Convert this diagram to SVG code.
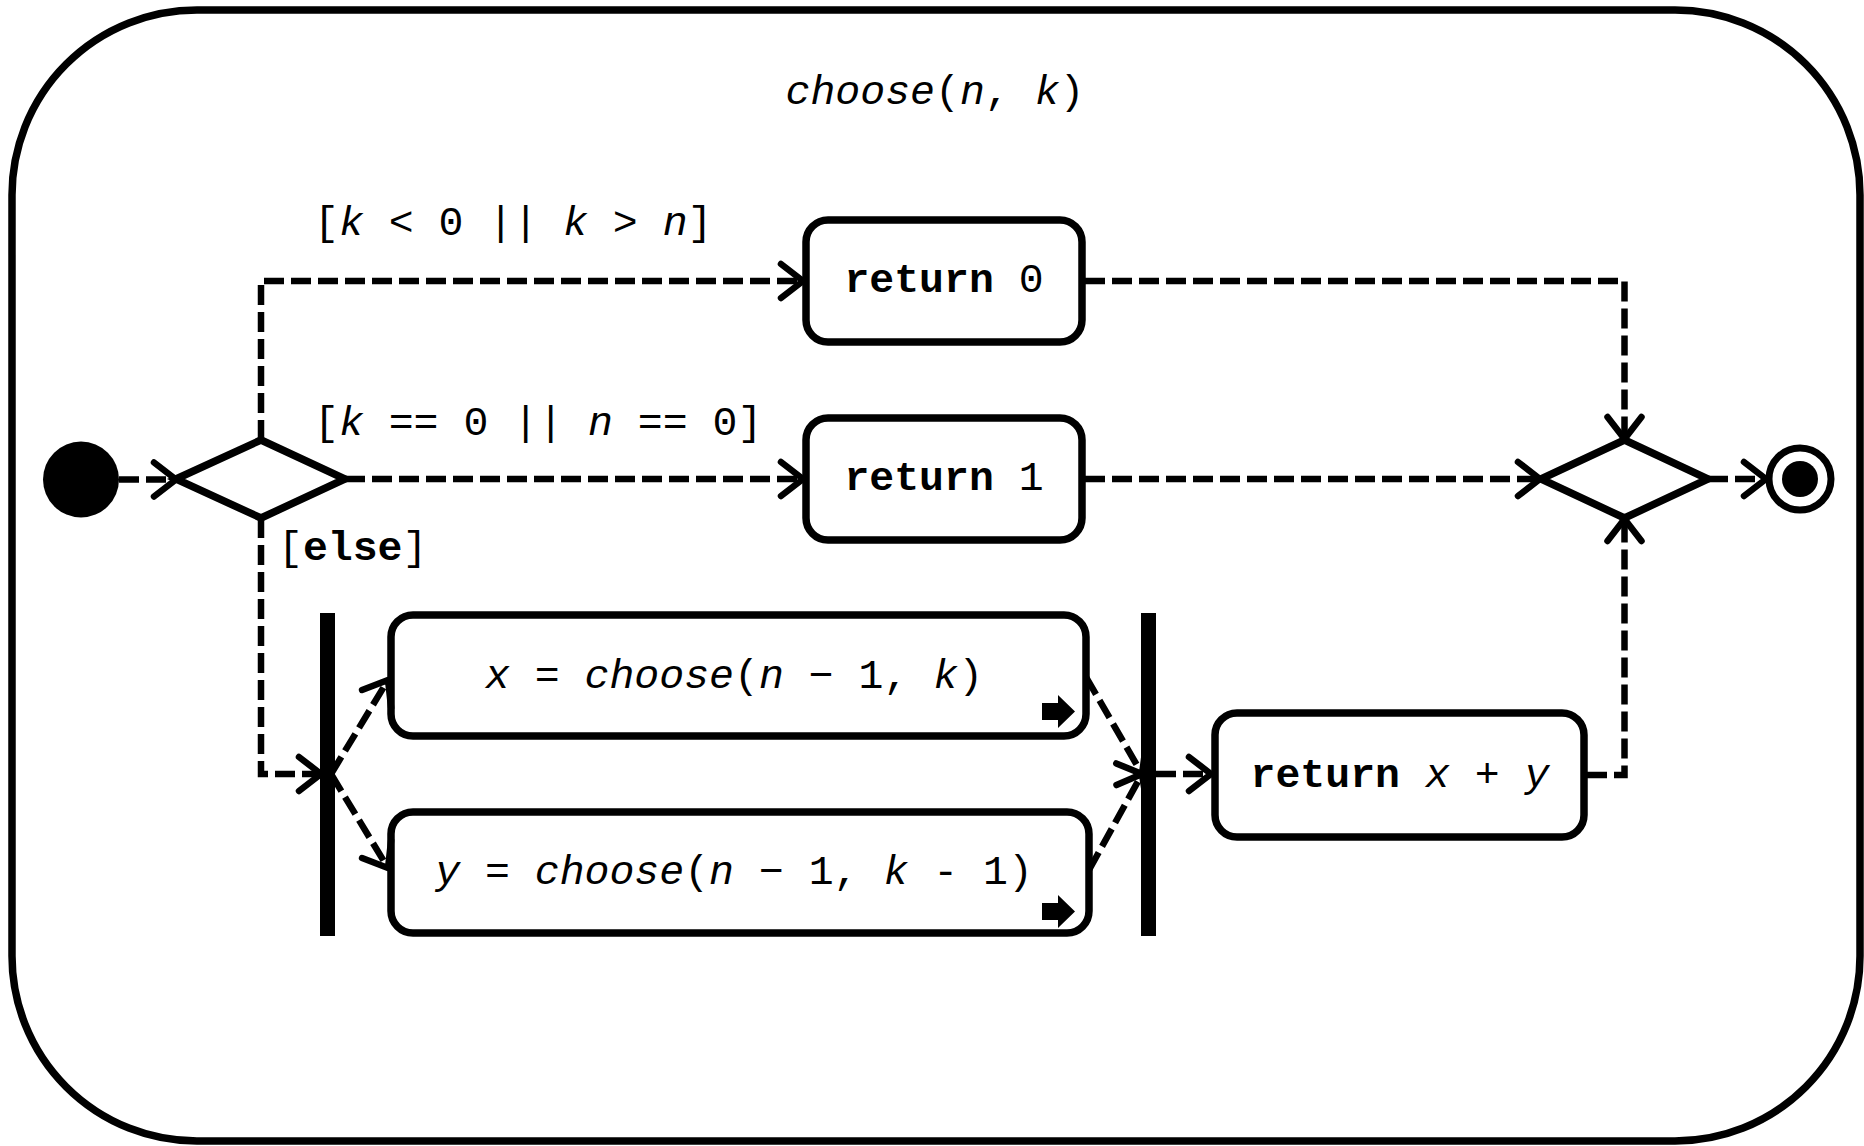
<svg xmlns="http://www.w3.org/2000/svg" width="1864" height="1146" viewBox="0 0 1864 1146">
<defs>
<style>
.frame{fill:#fff;stroke:#000;stroke-width:7.5}
.act{fill:#fff;stroke:#000;stroke-width:7.5}
.dia{fill:#fff;stroke:#000;stroke-width:7.5;stroke-linejoin:miter}
.bar{fill:#000}
.edge{fill:none;stroke:#000;stroke-width:6.5;stroke-dasharray:20 7;marker-end:url(#arr)}
.t{font-family:"Liberation Mono","Courier New",monospace;font-size:41.5px;fill:#000}
.i{font-style:italic}
.b{font-weight:bold}
</style>
<marker id="arr" markerUnits="userSpaceOnUse" viewBox="-30 -25 36 50" refX="0" refY="0" markerWidth="36" markerHeight="50" orient="auto">
<path d="M-22,-17 L0,0 L-22,17" fill="none" stroke="#000" stroke-width="6.5" stroke-dasharray="none" stroke-linecap="round" stroke-linejoin="round"/>
</marker>
</defs>
<rect x="0" y="0" width="1864" height="1146" fill="#fff"/>
<g id="activity">
<rect class="frame" x="12" y="10" width="1848" height="1131" rx="185" ry="185"/>
<text class="t" x="935" y="104" text-anchor="middle"><tspan class="i">choose</tspan>(<tspan class="i">n</tspan>, <tspan class="i">k</tspan>)</text>
</g>
<g id="initial"><circle cx="81" cy="479.5" r="38" fill="#000"/></g>
<g id="decision"><polygon class="dia" points="176,479 261,440 345,479 261,518"/></g>
<g id="return0">
<rect class="act" x="806" y="220" width="276" height="122" rx="22"/>
<text class="t" x="944" y="292" text-anchor="middle"><tspan class="b">return</tspan> 0</text>
</g>
<g id="return1">
<rect class="act" x="806" y="418" width="276" height="122" rx="22"/>
<text class="t" x="944" y="490" text-anchor="middle"><tspan class="b">return</tspan> 1</text>
</g>
<g id="fork"><rect class="bar" x="320" y="613" width="15" height="323"/></g>
<g id="callX">
<rect class="act" x="391" y="615" width="695" height="121" rx="22"/>
<text class="t" x="734" y="688" text-anchor="middle"><tspan class="i">x</tspan> = <tspan class="i">choose</tspan>(<tspan class="i">n</tspan> − 1, <tspan class="i">k</tspan>)</text>
<path d="M1042,703 H1058 V695 L1075,711.5 L1058,728 V720 H1042 Z" fill="#000"/>
</g>
<g id="callY">
<rect class="act" x="391" y="812" width="698" height="121" rx="22"/>
<text class="t" x="734" y="884" text-anchor="middle"><tspan class="i">y</tspan> = <tspan class="i">choose</tspan>(<tspan class="i">n</tspan> − 1, <tspan class="i">k</tspan> - 1)</text>
<path d="M1042,903 H1058 V895 L1075,911.5 L1058,928 V920 H1042 Z" fill="#000"/>
</g>
<g id="join"><rect class="bar" x="1141" y="613" width="15" height="323"/></g>
<g id="returnXY">
<rect class="act" x="1215" y="713" width="369" height="124" rx="22"/>
<text class="t" x="1400" y="787" text-anchor="middle"><tspan class="b">return</tspan> <tspan class="i">x</tspan> + <tspan class="i">y</tspan></text>
</g>
<g id="merge"><polygon class="dia" points="1541,479 1624.5,440 1708,479 1624.5,518"/></g>
<g id="final">
<circle cx="1800" cy="479" r="31" fill="#fff" stroke="#000" stroke-width="7"/>
<circle cx="1800" cy="479" r="18" fill="#000"/>
</g>
<g id="connectors">
<path class="edge" d="M119,479.5 H176"/>
<path class="edge" d="M261,440 V281 H803"/>
<path class="edge" d="M345,479 H803"/>
<path class="edge" d="M261,518 V774 H321"/>
<path class="edge" d="M331,774 L388,680"/>
<path class="edge" d="M331,774 L388,868"/>
<path class="edge" d="M1086,677 L1142,774"/>
<path class="edge" d="M1089,870 L1142,774"/>
<path class="edge" d="M1156,774 H1211"/>
<path class="edge" d="M1085,281 H1624.5 V439"/>
<path class="edge" d="M1085,479 H1540"/>
<path class="edge" d="M1587,775 H1624.5 V519"/>
<path class="edge" d="M1708,479 H1766"/>
</g>
<g id="guards">
<text class="t" x="314" y="235">[<tspan class="i">k</tspan> &lt; 0 || <tspan class="i">k</tspan> &gt; <tspan class="i">n</tspan>]</text>
<text class="t" x="314" y="435">[<tspan class="i">k</tspan> == 0 || <tspan class="i">n</tspan> == 0]</text>
<text class="t" x="278" y="560">[<tspan class="b">else</tspan>]</text>
</g>
</svg>
